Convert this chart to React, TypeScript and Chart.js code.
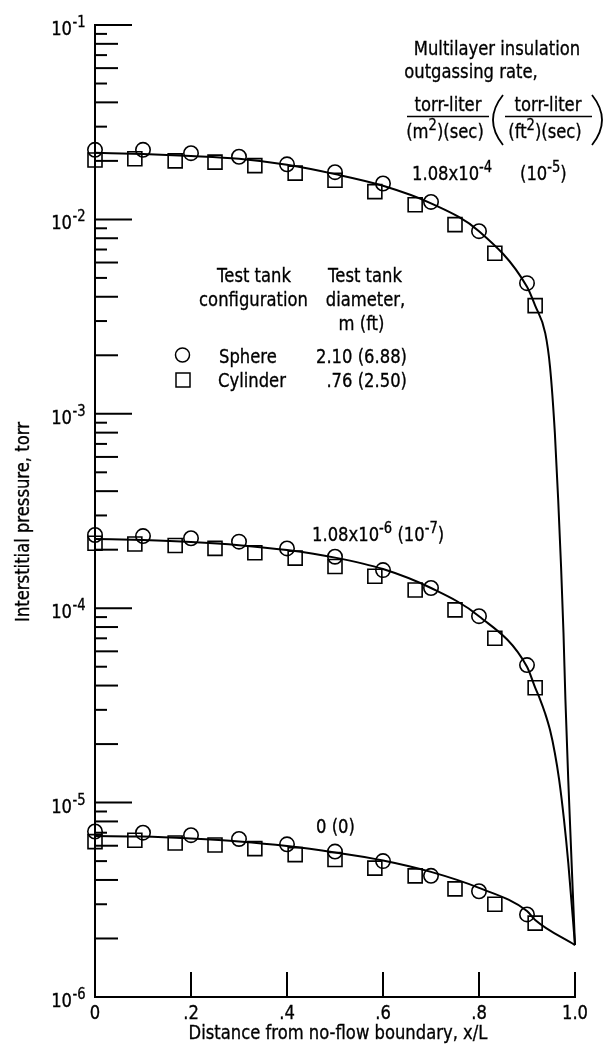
import React, { useEffect, useRef } from 'react';
import { Chart, registerables } from 'chart.js';

Chart.register(...registerables);

// ---------- data ----------
const sphereX = [0, 0.1, 0.2, 0.3, 0.4, 0.5, 0.6, 0.7, 0.8, 0.9];
const cylinderX = [0, 0.083, 0.167, 0.25, 0.333, 0.417, 0.5, 0.583, 0.667, 0.75, 0.833, 0.917];

const sphereHigh = [2.28e-2, 2.28e-2, 2.19e-2, 2.1e-2, 1.92e-2, 1.75e-2, 1.53e-2, 1.23e-2, 8.7e-3, 4.7e-3];
const cylinderHigh = [2.02e-2, 2.05e-2, 2.0e-2, 1.97e-2, 1.89e-2, 1.73e-2, 1.59e-2, 1.39e-2, 1.19e-2, 9.4e-3, 6.7e-3, 3.6e-3];
const sphereMid = [2.38e-4, 2.35e-4, 2.29e-4, 2.2e-4, 2.03e-4, 1.84e-4, 1.57e-4, 1.27e-4, 9.1e-5, 5.1e-5];
const cylinderMid = [2.16e-4, 2.14e-4, 2.1e-4, 2.03e-4, 1.93e-4, 1.81e-4, 1.64e-4, 1.46e-4, 1.24e-4, 9.8e-5, 7.0e-5, 3.9e-5];
const sphereZero = [7.1e-6, 7.0e-6, 6.8e-6, 6.5e-6, 6.1e-6, 5.6e-6, 5.0e-6, 4.2e-6, 3.5e-6, 2.66e-6];
const cylinderZero = [6.3e-6, 6.4e-6, 6.2e-6, 6.05e-6, 5.8e-6, 5.4e-6, 5.1e-6, 4.6e-6, 4.2e-6, 3.6e-6, 3.0e-6, 2.4e-6];

const curveHighX = [0, 0.1, 0.2, 0.3, 0.4, 0.5, 0.6, 0.7, 0.8, 0.9, 0.917, 0.938, 0.948, 0.958, 0.965, 0.971, 0.976, 0.98, 0.986, 1.0];
const curveHighY = [2.2e-2, 2.17e-2, 2.12e-2, 2.05e-2, 1.91e-2, 1.71e-2, 1.49e-2, 1.21e-2, 8.7e-3, 4.5e-3, 3.6e-3, 2.6e-3, 1.74e-3, 8.0e-4, 3.6e-4, 1.63e-4, 7.5e-5, 3.4e-5, 1.3e-5, 1.85e-6];
const curveMidX = [0, 0.1, 0.2, 0.3, 0.4, 0.5, 0.6, 0.7, 0.8, 0.9, 0.917, 0.927, 0.9375, 0.948, 0.958, 0.967, 0.977, 0.986, 1.0];
const curveMidY = [2.27e-4, 2.24e-4, 2.19e-4, 2.11e-4, 1.99e-4, 1.82e-4, 1.59e-4, 1.27e-4, 9.1e-5, 5.0e-5, 3.9e-5, 3.41e-5, 2.89e-5, 2.36e-5, 1.8e-5, 1.31e-5, 8.2e-6, 4.9e-6, 1.85e-6];
const curveZeroX = [0, 0.1, 0.2, 0.3, 0.4, 0.5, 0.6, 0.7, 0.8, 0.9, 0.917, 1.0];
const curveZeroY = [6.73e-6, 6.69e-6, 6.53e-6, 6.31e-6, 5.98e-6, 5.54e-6, 5.04e-6, 4.4e-6, 3.64e-6, 2.77e-6, 2.49e-6, 1.85e-6];

const xTickValues = [0, 0.2, 0.4, 0.6, 0.8, 1.0];
const xTickLabels = ['0', '.2', '.4', '.6', '.8', '1.0'];
const yDecades = [-6, -5, -4, -3, -2, -1];

const xTitle = 'Distance from no-flow boundary, x/L';
const yTitle = 'Interstitial pressure, torr';

// ---------- helpers ----------
const FONT = '"DejaVu Sans", "Liberation Sans", sans-serif';
const SX = 0.82;
const BASE = 20;

type Part = [string, boolean];

function drawRich(ctx: CanvasRenderingContext2D, parts: Part[], x: number, y: number, align: 'left' | 'center' | 'right', size = BASE) {
  const supSize = Math.round(size * 0.78);
  let total = 0;
  const widths = parts.map(([t, sup]) => {
    ctx.font = `${sup ? supSize : size}px ${FONT}`;
    const w = ctx.measureText(t).width * SX;
    total += w;
    return w;
  });
  let cx = align === 'left' ? x : align === 'center' ? x - total / 2 : x - total;
  parts.forEach(([t, sup], i) => {
    ctx.save();
    ctx.font = `${sup ? supSize : size}px ${FONT}`;
    ctx.fillStyle = '#000';
    ctx.strokeStyle = '#000';
    ctx.lineWidth = 0.35;
    ctx.textAlign = 'left';
    ctx.textBaseline = 'alphabetic';
    ctx.translate(cx, sup ? y - 8 : y);
    ctx.scale(SX, 1);
    ctx.fillText(t, 0, 0);
    ctx.strokeText(t, 0, 0);
    ctx.restore();
    cx += widths[i];
  });
}

function txt(ctx: CanvasRenderingContext2D, s: string, x: number, y: number, align: 'left' | 'center' | 'right' = 'center', size = BASE) {
  drawRich(ctx, [[s, false]], x, y, align, size);
}

const overlayPlugin = {
  id: 'overlay',
  afterDraw(chart: any) {
    const ctx: CanvasRenderingContext2D = chart.ctx;
    const xs = chart.scales.x;
    const ys = chart.scales.y;
    const left = chart.chartArea.left;
    const bottom = chart.chartArea.bottom;
    ctx.save();
    ctx.strokeStyle = '#000';
    ctx.fillStyle = '#000';
    ctx.lineWidth = 2;

    // y ticks (inward)
    yDecades.forEach((e) => {
      const py = ys.getPixelForValue(Math.pow(10, e));
      ctx.lineWidth = 2;
      ctx.beginPath();
      ctx.moveTo(left, py);
      ctx.lineTo(left + 37, py);
      ctx.stroke();
      drawRich(ctx, [['10', false]], 72, py + 10, 'right');
      drawRich(ctx, [['-' + String(-e), true]], 72.5, py + 10, 'left');
      if (e < -1) {
        for (let k = 2; k <= 9; k++) {
          const v = k * Math.pow(10, e);
          const pm = ys.getPixelForValue(v);
          const len = k % 2 === 0 ? 23 : 12;
          ctx.lineWidth = 2;
          ctx.beginPath();
          ctx.moveTo(left, pm);
          ctx.lineTo(left + len, pm);
          ctx.stroke();
        }
      }
    });

    // x ticks (inward)
    xTickValues.forEach((v, i) => {
      const px = xs.getPixelForValue(v);
      if (v > 0) {
        ctx.lineWidth = 2;
        ctx.beginPath();
        ctx.moveTo(px, bottom);
        ctx.lineTo(px, bottom - 25);
        ctx.stroke();
      }
      txt(ctx, xTickLabels[i], px, bottom + 22);
    });

    // axis titles
    txt(ctx, xTitle, 338, bottom + 42);
    ctx.save();
    ctx.translate(29, 522);
    ctx.rotate(-Math.PI / 2);
    txt(ctx, yTitle, 0, 0);
    ctx.restore();

    // top-right annotation
    txt(ctx, 'Multilayer insulation', 497, 55);
    txt(ctx, 'outgassing rate,', 471, 78);
    txt(ctx, 'torr-liter', 448, 111);
    txt(ctx, 'torr-liter', 548, 111);
    ctx.lineWidth = 1.5;
    ctx.beginPath();
    ctx.moveTo(407, 116.5);
    ctx.lineTo(489, 116.5);
    ctx.moveTo(505, 116.5);
    ctx.lineTo(592, 116.5);
    ctx.stroke();
    drawRich(ctx, [['(m', false], ['2', true], [')(sec)', false]], 445, 138, 'center');
    drawRich(ctx, [['(ft', false], ['2', true], [')(sec)', false]], 545, 138, 'center');
    ctx.lineWidth = 1.8;
    ctx.beginPath();
    ctx.moveTo(503, 95);
    ctx.quadraticCurveTo(483, 120, 503, 145);
    ctx.moveTo(592, 95);
    ctx.quadraticCurveTo(612, 120, 592, 145);
    ctx.stroke();
    drawRich(ctx, [['1.08x10', false], ['-4', true]], 412, 180, 'left');
    drawRich(ctx, [['(10', false], ['-5', true], [')', false]], 520, 180, 'left');

    // curve labels
    drawRich(ctx, [['1.08x10', false], ['-6', true], [' (10', false], ['-7', true], [')', false]], 312, 541, 'left');
    txt(ctx, '0 (0)', 316, 833, 'left');

    // legend table
    txt(ctx, 'Test tank', 254, 282);
    txt(ctx, 'configuration', 253.5, 306);
    txt(ctx, 'Test tank', 365, 282);
    txt(ctx, 'diameter,', 365.5, 306);
    txt(ctx, 'm (ft)', 361.5, 330);
    ctx.lineWidth = 1.5;
    ctx.beginPath();
    ctx.arc(182.5, 355, 7, 0, Math.PI * 2);
    ctx.stroke();
    ctx.strokeRect(176, 373, 14, 14);
    txt(ctx, 'Sphere', 219, 363, 'left');
    txt(ctx, '2.10 (6.88)', 407, 363, 'right');
    txt(ctx, 'Cylinder', 218, 387, 'left');
    txt(ctx, '.76 (2.50)', 407, 387, 'right');

    ctx.restore();
  },
};

function pts(xs: number[], ys: number[]) {
  return xs.map((x, i) => ({ x, y: ys[i] }));
}

function markerSet(xs: number[], ys: number[], style: 'circle' | 'rect') {
  return {
    data: pts(xs, ys),
    showLine: false,
    pointStyle: style,
    pointRadius: style === 'circle' ? 7.2 : 9.9,
    pointBorderWidth: 1.6,
    pointBorderColor: '#000',
    pointBackgroundColor: 'rgba(0,0,0,0)',
    clip: false,
  };
}

function curveSet(xs: number[], ys: number[]) {
  return {
    data: pts(xs, ys),
    showLine: true,
    borderColor: '#000',
    borderWidth: 2,
    pointRadius: 0,
    cubicInterpolationMode: 'monotone',
    clip: false,
  };
}

export default function App() {
  const ref = useRef<HTMLCanvasElement | null>(null);
  useEffect(() => {
    if (!ref.current) return;
    const chart = new Chart(ref.current, {
      type: 'scatter',
      data: {
        datasets: [
          curveSet(curveHighX, curveHighY),
          curveSet(curveMidX, curveMidY),
          curveSet(curveZeroX, curveZeroY),
          markerSet(sphereX, sphereHigh, 'circle'),
          markerSet(cylinderX, cylinderHigh, 'rect'),
          markerSet(sphereX, sphereMid, 'circle'),
          markerSet(cylinderX, cylinderMid, 'rect'),
          markerSet(sphereX, sphereZero, 'circle'),
          markerSet(cylinderX, cylinderZero, 'rect'),
        ] as any,
      },
      options: {
        animation: false,
        responsive: false,
        maintainAspectRatio: false,
        layout: { padding: { left: 95, right: 31, top: 25, bottom: 50 } },
        plugins: { legend: { display: false }, tooltip: { enabled: false } },
        scales: {
          x: {
            type: 'linear',
            min: 0,
            max: 1,
            ticks: { display: false },
            grid: { display: false, drawTicks: false },
            border: { display: true, color: '#000', width: 2 },
            afterFit: (s: any) => { s.height = 0; },
          },
          y: {
            type: 'logarithmic',
            min: 1e-6,
            max: 1e-1,
            ticks: { display: false },
            grid: { display: false, drawTicks: false },
            border: { display: true, color: '#000', width: 2 },
            afterFit: (s: any) => { s.width = 0; },
          },
        },
      } as any,
      plugins: [overlayPlugin],
    });
    return () => chart.destroy();
  }, []);
  return (
    <div style={{ position: 'absolute', left: 0, top: 0, width: 606, height: 1047, background: '#fff' }}>
      <canvas ref={ref} width={606} height={1047} style={{ display: 'block', width: 606, height: 1047 }} />
    </div>
  );
}
